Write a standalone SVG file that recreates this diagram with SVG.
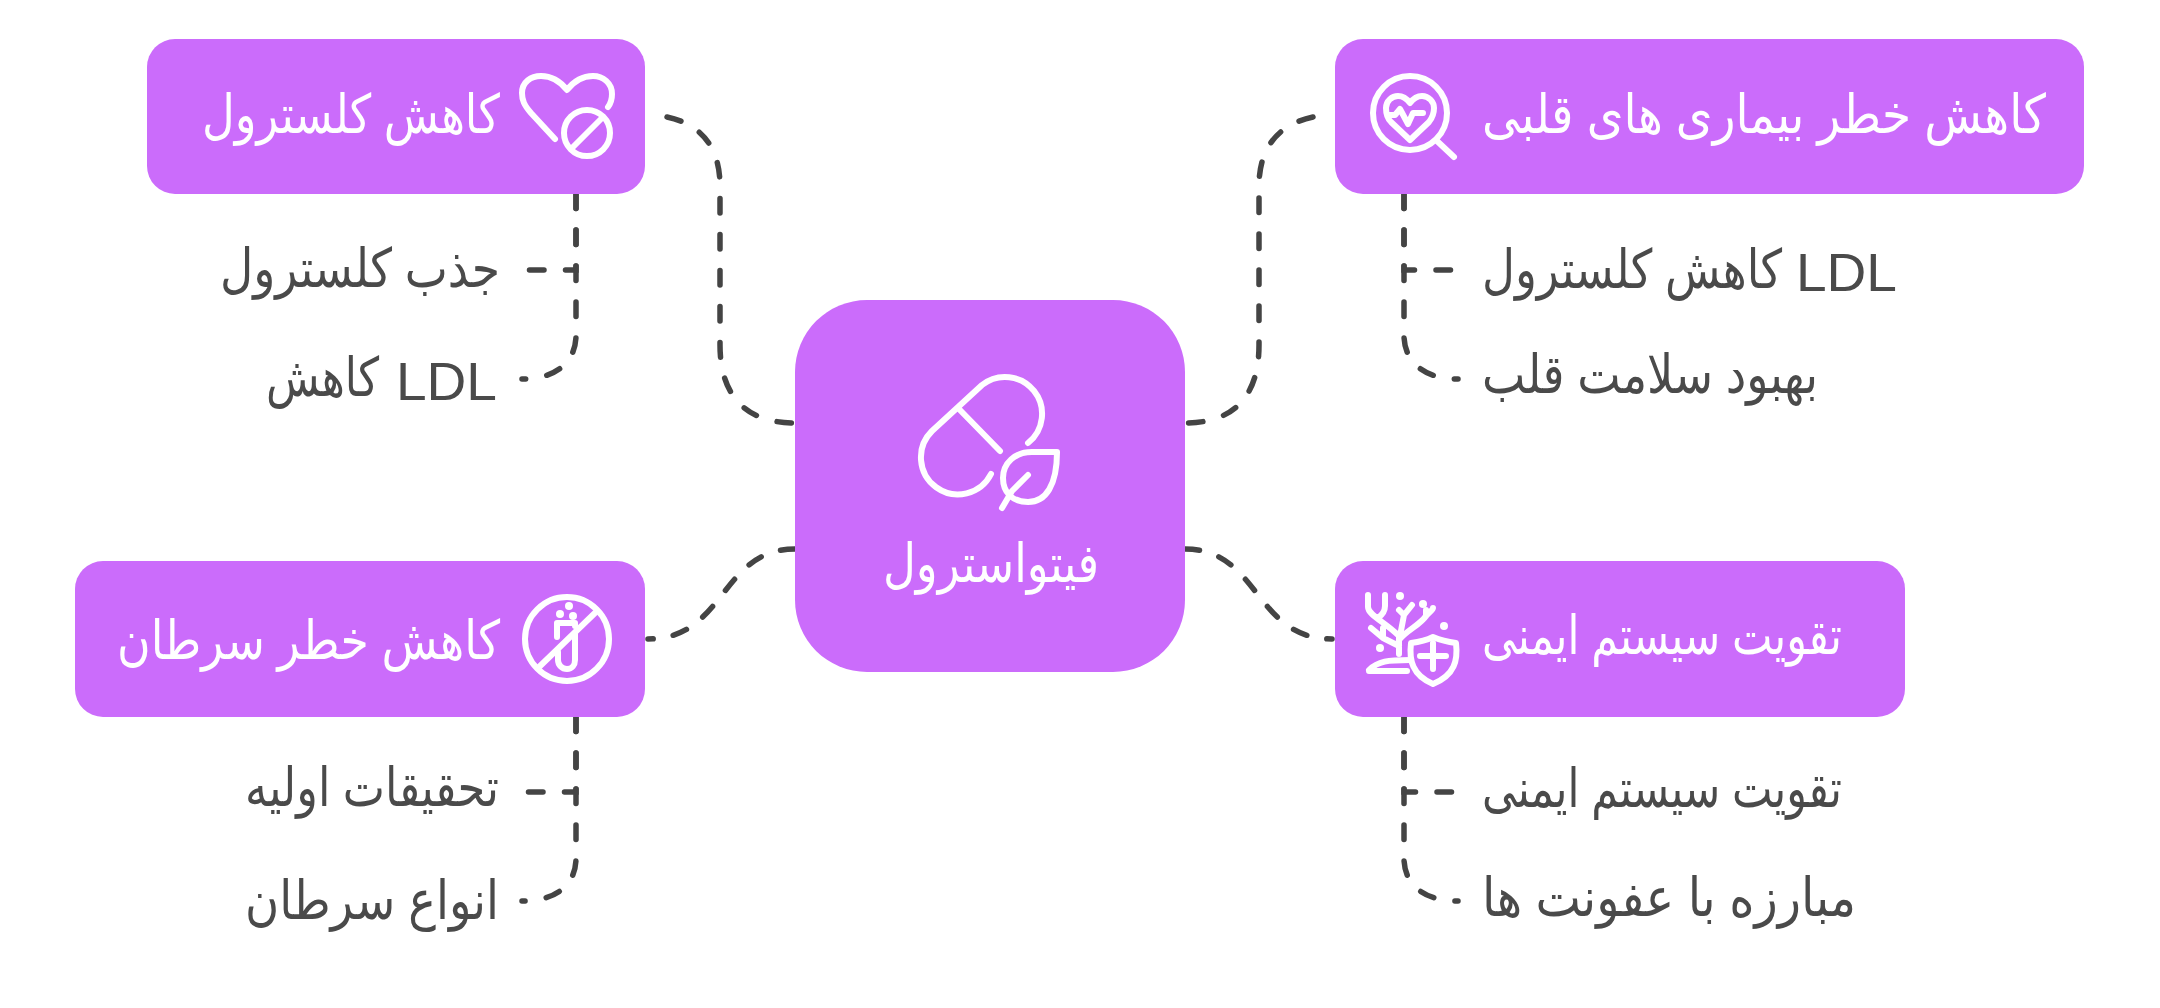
<svg xmlns="http://www.w3.org/2000/svg" width="2160" height="1008" viewBox="0 0 2160 1008">
<style>
.box{fill:#cb6cfb}
.ic{fill:none;stroke:#fff;stroke-width:6;stroke-linecap:round;stroke-linejoin:round}
.dot{fill:#fff}
.c{fill:none;stroke:#444;stroke-width:5.5;stroke-linecap:round;stroke-dasharray:14.5 21.5}
.c2{stroke-dasharray:14.5 20.5}
text{font-family:"Liberation Sans","DejaVu Sans",sans-serif;font-size:54px;direction:rtl;text-anchor:start}
.w{fill:#fff}
.d{fill:#4a4a4a}
</style>
<rect width="2160" height="1008" fill="#fff"/>
<g id="connectors">
<path class="c" d="M667 117C700 124 720 146 720 186V345C720 395 745 423 795 423"/>
<path class="c" d="M1313 117C1280 124 1259 146 1259 186V345C1259 395 1235 423 1185 423"/>
<path class="c c2" d="M795 549C720 549 726 639 648 639"/>
<path class="c c2" d="M1185 549C1260 549 1254 639 1332 639"/>
<path class="c" d="M576 194V270H522"/>
<path class="c" d="M576 194V335C576 362 556 379 522 379"/>
<path class="c" d="M576 717V792H522"/>
<path class="c" d="M576 717V858C576 885 556 901 522 901"/>
<path class="c" d="M1404 194V270H1458"/>
<path class="c" d="M1404 194V335C1404 362 1424 379 1458 379"/>
<path class="c" d="M1404 717V792H1458"/>
<path class="c" d="M1404 717V858C1404 885 1424 901 1458 901"/>
</g>
<g id="center">
<rect class="box" x="795" y="300" width="390" height="372" rx="72"/>
<path class="ic" d="M1028 443A37 37 0 1 0 982 385L932 431A37 37 0 1 0 991 474M958 408L1000 451"/>
<path class="ic" d="M1057 452H1032C1015 452 1003 463 1003 478C1003 492 1012 502 1028 502C1046 502 1057 485 1057 452ZM1028 475L1012 491L1002 508"/>
<text class="w" x="1099" y="582" textLength="216" lengthAdjust="spacingAndGlyphs">فیتواسترول</text>
</g>
<g id="node-cholesterol">
<rect class="box" x="147" y="39" width="498" height="155" rx="28"/>
<path class="ic" d="M555 139L531 113C524 105 522 100 522 93C522 82 531 76 541 76C552 76 560 81 567 90C574 81 582 76 593 76C603 76 612 83 612 94C612 98 611 103 608 107"/>
<circle class="ic" cx="587" cy="133" r="23"/>
<path class="ic" d="M573 147L601 119"/>
<text class="w" x="500" y="133" textLength="298" lengthAdjust="spacingAndGlyphs">کاهش کلسترول</text>
</g>
<g id="node-absorb"><text class="d" x="500" y="287" textLength="280" lengthAdjust="spacingAndGlyphs">جذب کلسترول</text></g>
<g id="node-ldl"><text class="d" y="400"><tspan x="497" font-size="53" textLength="101" lengthAdjust="spacingAndGlyphs">LDL</tspan> <tspan x="379" y="396" textLength="113" lengthAdjust="spacingAndGlyphs">کاهش</tspan></text></g>
<g id="node-heart">
<rect class="box" x="1335" y="39" width="749" height="155" rx="28"/>
<circle class="ic" cx="1410" cy="113" r="37"/>
<path class="ic" d="M1437 141L1454 157"/>
<path class="ic" d="M1410 140L1391 122C1386 117 1386 112 1386 108C1386 101 1392 96 1398 96C1403 96 1407 99 1410 103C1413 99 1417 96 1422 96C1429 96 1434 102 1434 108C1434 112 1433 117 1429 122Z"/>
<path class="ic" d="M1389 115H1395L1400 109L1408 124L1413 113H1423"/>
<text class="w" x="2046" y="133" textLength="564" lengthAdjust="spacingAndGlyphs">کاهش خطر بیماری های قلبی</text>
</g>
<g id="node-ldl-down"><text class="d" y="291"><tspan x="1897" font-size="53" textLength="101" lengthAdjust="spacingAndGlyphs">LDL</tspan> <tspan x="1782" y="288" textLength="300" lengthAdjust="spacingAndGlyphs">کاهش کلسترول</tspan></text></g>
<g id="node-health"><text class="d" x="1818" y="393" textLength="336" lengthAdjust="spacingAndGlyphs">بهبود سلامت قلب</text></g>
<g id="node-cancer">
<rect class="box" x="75" y="561" width="570" height="156" rx="28"/>
<path class="ic" d="M557 637V623H575V626M558 652V660C558 665 562 669 567 669C572 669 575 665 575 660V634"/>
<circle class="dot" cx="569" cy="606" r="4"/><circle class="dot" cx="560" cy="614" r="4"/><circle class="dot" cx="573" cy="616" r="4"/>
<circle class="ic" cx="567" cy="639" r="42"/>
<path class="ic" d="M538 668L597 611"/>
<text class="w" x="500" y="659" textLength="383" lengthAdjust="spacingAndGlyphs">کاهش خطر سرطان</text>
</g>
<g id="node-research"><text class="d" x="499" y="806" textLength="254" lengthAdjust="spacingAndGlyphs">تحقیقات اولیه</text></g>
<g id="node-types"><text class="d" x="499" y="919" textLength="254" lengthAdjust="spacingAndGlyphs">انواع سرطان</text></g>
<g id="node-immune">
<rect class="box" x="1335" y="561" width="570" height="156" rx="28"/>
<path class="ic" d="M1368 595V607C1368 615 1385 622 1399 636V654M1385 595V606C1385 612 1382 615 1378 618M1399 610L1404 615L1412 605M1404 615L1400 636M1399 640C1407 630 1420 625 1426 616C1429 612 1433 610 1433 608M1426 616V610M1371 628L1383 638M1383 628V638L1399 646"/>
<circle class="dot" cx="1400" cy="596" r="4"/><circle class="dot" cx="1423" cy="604" r="4"/><circle class="dot" cx="1444" cy="626" r="4"/><circle class="dot" cx="1380" cy="648" r="4"/>
<path class="ic" d="M1369 671H1407M1369 670C1378 661 1388 660 1410 660"/>
<path class="ic" d="M1411 643C1419 642 1427 640 1433 637C1440 640 1448 642 1456 643C1458 660 1455 675 1433 684C1412 675 1409 660 1411 643Z"/>
<path class="ic" d="M1420 656H1446M1433 643V669"/>
<text class="w" x="1842" y="654" textLength="360" lengthAdjust="spacingAndGlyphs">تقویت سیستم ایمنی</text>
</g>
<g id="node-immune-sub"><text class="d" x="1842" y="807" textLength="360" lengthAdjust="spacingAndGlyphs">تقویت سیستم ایمنی</text></g>
<g id="node-infection"><text class="d" x="1856" y="916" textLength="374" lengthAdjust="spacingAndGlyphs">مبارزه با عفونت ها</text></g>
</svg>
